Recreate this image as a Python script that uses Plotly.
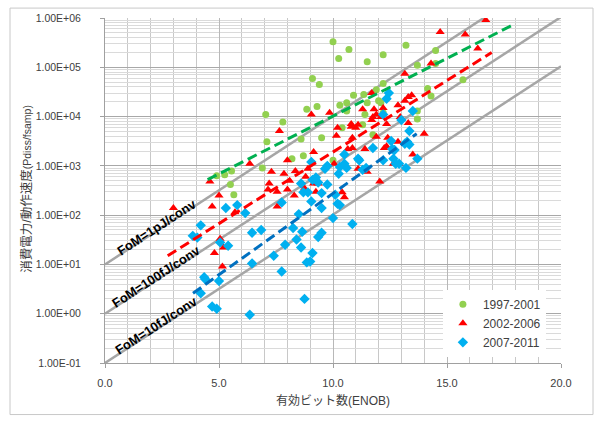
import math
import plotly.graph_objects as go

# ---------------- data ----------------
g_enob = [10.0, 10.7, 10.25, 11.5, 12.2, 13.2, 14.5, 13.7, 14.5, 15.7,
          9.1, 9.4, 8.85, 9.3, 7.05, 7.8, 8.6, 9.5, 7.1, 10.9,
          11.35, 11.5, 10.6, 10.3, 12.0, 12.2, 12.2, 11.9, 11.3, 11.75,
          8.2, 8.7, 10.0, 6.9, 5.55, 5.25, 4.9, 5.5, 5.65, 10.4,
          14.15, 14.3, 13.7, 13.7, 10.6, 11.4, 12.1]
g_val = [3.3e5, 2.3e5, 1.5e5, 1.3e5, 1.8e5, 2.8e5, 2.2e5, 1.1e5, 1.2e5, 5.6e4,
         5.9e4, 4.5e4, 1.4e4, 1.6e4, 1.1e4, 7.8e3, 3.5e3, 3.7e3, 3.1e3, 2.7e4,
         2.8e4, 1.9e4, 1.9e4, 1.7e4, 2.1e4, 1.2e4, 4.7e4, 3.5e4, 6.8e3, 4.3e3,
         1.4e3, 1.6e3, 1.3e3, 910, 790, 660, 630, 420, 260, 5.9e3,
         3.7e4, 2.6e4, 1.3e4, 8.9e3, 1.3e4, 1.1e4, 1.9e4]

r_enob = [16.7, 14.7, 15.8, 16.35, 14.3, 13.15, 11.7, 13.45, 13.3, 13.15,
          11.3, 11.8, 12.2, 12.85, 11.9, 11.75, 11.7, 12.1, 10.8, 12.35,
          13.3, 11.1, 9.85, 9.05, 10.2, 10.8, 11.0, 7.65, 10.85, 9.15,
          12.25, 8.0, 6.35, 4.6, 5.0, 7.3, 7.85, 8.35, 8.9, 8.8,
          9.15, 7.2, 8.1, 7.15, 7.55, 8.0, 8.3, 8.75, 9.25, 9.35,
          10.05, 10.85, 12.05, 12.65, 10.15, 7.55, 10.4, 10.5, 5.7, 4.7,
          3.0, 5.05, 4.8, 5.15, 5.2, 14.0, 13.5, 12.95, 11.5, 12.9,
          12.4, 12.35, 12.85, 11.9, 11.4, 11.1, 10.65]
r_val = [9.1e5, 5.2e5, 4.6e5, 2.4e5, 1.2e5, 7.4e4, 3.0e4, 2.7e4, 2.5e4, 2.1e4,
         1.4e4, 1.4e4, 1.5e4, 1.7e4, 1.1e4, 9.8e3, 8.5e3, 9.8e3, 7.1e3, 7.1e3,
         7.4e3, 6.8e3, 1.2e4, 1.1e4, 5.9e3, 6.2e3, 5.9e3, 5.1e3, 3.7e3, 1.9e3,
         2.3e3, 1.3e3, 1.1e3, 480, 250, 760, 690, 790, 870, 600,
         440, 440, 500, 330, 300, 330, 250, 350, 300, 440,
         1.1e3, 2.3e3, 480, 1.1e3, 4.1e3, 150, 290, 230, 115, 150,
         140, 33, 17, 9.1, 22, 4.5e3, 1.7e3, 9.8e3, 760, 1.1e3,
         3.7e3, 2.5e3, 3.1e3, 3.9e3, 2.2e3, 870, 2.2e3]

b_enob = [5.3, 5.8, 4.2, 5.05, 5.4, 6.45, 6.85, 5.0, 6.45, 4.4,
          4.2, 7.4, 7.9, 7.75, 8.4, 8.6, 8.65, 9.1, 8.85, 9.0,
          8.75, 9.35, 9.5, 10.0, 10.3, 10.85, 4.7, 4.9, 6.35, 8.5,
          6.15, 7.75, 8.6, 9.05, 8.7, 9.05, 9.5, 9.65, 10.3, 10.5,
          10.2, 9.35, 9.25, 8.25, 9.75, 10.25, 11.1, 11.75, 12.45, 12.35,
          12.2, 12.55, 12.6, 12.75, 12.2, 11.45, 10.6, 10.1, 9.5, 8.9,
          9.1, 9.75, 13.35, 13.15, 12.7, 12.65, 11.15, 10.5, 11.3, 13.7,
          13.2, 13.5, 13.0, 13.25, 13.35, 12.9, 3.85, 4.05, 4.35]
b_val = [140, 160, 62, 28, 24, 44, 50, 4.6, 10.5, 5.0,
         2.6, 15, 25, 7.2, 32, 22, 46, 17, 11, 11.5,
         2.0, 36, 44, 87, 160, 66, 1.4, 1.26, 0.95, 105,
         110, 180, 440, 1.2e3, 290, 190, 140, 870, 950, 1.7e3,
         170, 460, 580, 55, 1.0e3, 690, 1.4e3, 2.3e3, 3.0e4, 2.3e4,
         1.1e4, 3.2e3, 2.2e3, 1.1e3, 1.3e3, 910, 910, 260, 280, 290,
         520, 420, 5.1e3, 2.8e3, 2.1e3, 1.4e3, 1.3e3, 1.1e3, 830, 1.4e3,
         910, 1.3e4, 8.5e3, 3.1e3, 2.7e3, 1.1e3, 38, 35, 5.5]

series_names = ["1997-2001", "2002-2006", "2007-2011"]

# Exponential trend lines (start / end)
trend_x0 = [4.5, 2.75, 3.86]
trend_x1 = [17.88, 16.96, 13.67]
trend_y0 = [525, 15, 2.6]
trend_y1 = [7.2e5, 2.0e5, 4.5e3]

# Figure-of-merit reference lines: Pdiss/fsamp = k * 2^ENOB
fom_labels = ["FoM=1pJ/conv", "FoM=100fJ/conv", "FoM=10fJ/conv"]
fom_k = [10, 1, 0.1]
enob_range = [0, 20]
label_enob = 2.25

ytick_exp = [-1, 0, 1, 2, 3, 4, 5, 6]

x_title = "有効ビット数(ENOB)"
y_title_jp = "消費電力/動作速度"
y_title_en = "(Pdiss/fsamp)"

# ---------------- figure ----------------
fig = go.Figure()

for k in fom_k:
    fig.add_trace(go.Scatter(
        x=enob_range, y=[k * 2 ** e for e in enob_range], mode="lines",
        line=dict(color="#A6A6A6", width=2.5), showlegend=False, hoverinfo="skip"))

marker_styles = [
    dict(symbol="circle", color="#92D050", size=7),
    dict(symbol="triangle-up", color="#FF0000", size=8),
    dict(symbol="diamond", color="#00B0F0", size=8),
]
for name, xs, ys, ms in zip(series_names, [g_enob, r_enob, b_enob],
                            [g_val, r_val, b_val], marker_styles):
    fig.add_trace(go.Scatter(x=xs, y=ys, mode="markers", name=name,
                             marker=dict(ms, line=dict(width=0))))

trend_colors = ["#00B050", "#FF0000", "#0070C0"]
for x0, x1, y0, y1, c in zip(trend_x0, trend_x1, trend_y0, trend_y1, trend_colors):
    fig.add_trace(go.Scatter(x=[x0, x1], y=[y0, y1], mode="lines",
                             line=dict(color=c, width=3, dash="10px,5px"),
                             showlegend=False, hoverinfo="skip"))

for lab, k in zip(fom_labels, fom_k):
    fig.add_annotation(x=label_enob, y=math.log10(k * 2 ** label_enob * 1.2),
                       text="<b>" + lab + "</b>", showarrow=False, textangle=-33,
                       font=dict(family="Liberation Sans, Arial", size=13, color="#000000"),
                       xanchor="center", yanchor="middle")

# y-axis title (annotation so that it can sit at the reference position)
fig.add_annotation(xref="paper", yref="paper", x=(27 - 105) / 456, y=0.505,
                   text=y_title_jp + "<span style='font-size:10.5px'>" + y_title_en + "</span>",
                   textangle=-90, showarrow=False, xanchor="center", yanchor="middle",
                   font=dict(family="Liberation Sans, Noto Sans CJK JP", size=12.5, color="#404040"))

tick_font = dict(family="Liberation Sans, Arial", size=11, color="#404040")

fig.update_xaxes(
    range=[0, 20], dtick=5, tickformat=".1f", tickfont=tick_font,
    showgrid=True, gridcolor="#B8B8B8", gridwidth=1,
    minor=dict(dtick=1, showgrid=True, gridcolor="#C8C8C8", ticks=""),
    ticks="outside", ticklen=4, tickcolor="#A0A0A0",
    showline=True, linecolor="#A0A0A0", zeroline=False,
    ticklabelstandoff=6,
    title=dict(text=x_title, standoff=8,
               font=dict(family="Liberation Sans, Noto Sans CJK JP", size=12, color="#404040")),
)
fig.update_yaxes(
    type="log", range=[-1, 6],
    tickvals=[10.0 ** e for e in ytick_exp],
    ticktext=["1.00E%+03d" % e for e in ytick_exp],
    tickfont=dict(tick_font, size=10.5),
    showgrid=True, gridcolor="#A8A8A8", gridwidth=1,
    minor=dict(dtick="D1", showgrid=True, gridcolor="#DADADA", ticks=""),
    ticks="outside", ticklen=4, tickcolor="#A0A0A0",
    showline=True, linecolor="#A0A0A0", zeroline=False,
    ticklabelstandoff=17,
)

# outer chart frame
fig.add_shape(type="rect", xref="paper", yref="paper",
              x0=(10 - 105) / 456, x1=(593 - 105) / 456,
              y0=(363 - 415) / 348, y1=(363 - 5) / 348,
              line=dict(color="#C8C8C8", width=1), layer="below")

fig.update_layout(
    width=602, height=423,
    margin=dict(l=105, r=41, t=15, b=60),
    paper_bgcolor="white", plot_bgcolor="white",
    showlegend=True,
    legend=dict(x=0.741, y=0.212, xanchor="left", yanchor="top",
                bgcolor="white", borderwidth=0,
                font=dict(family="Liberation Sans, Arial", size=12, color="#404040"),
                itemwidth=30, tracegroupgap=0),
)

fig.write_html("out.html")
